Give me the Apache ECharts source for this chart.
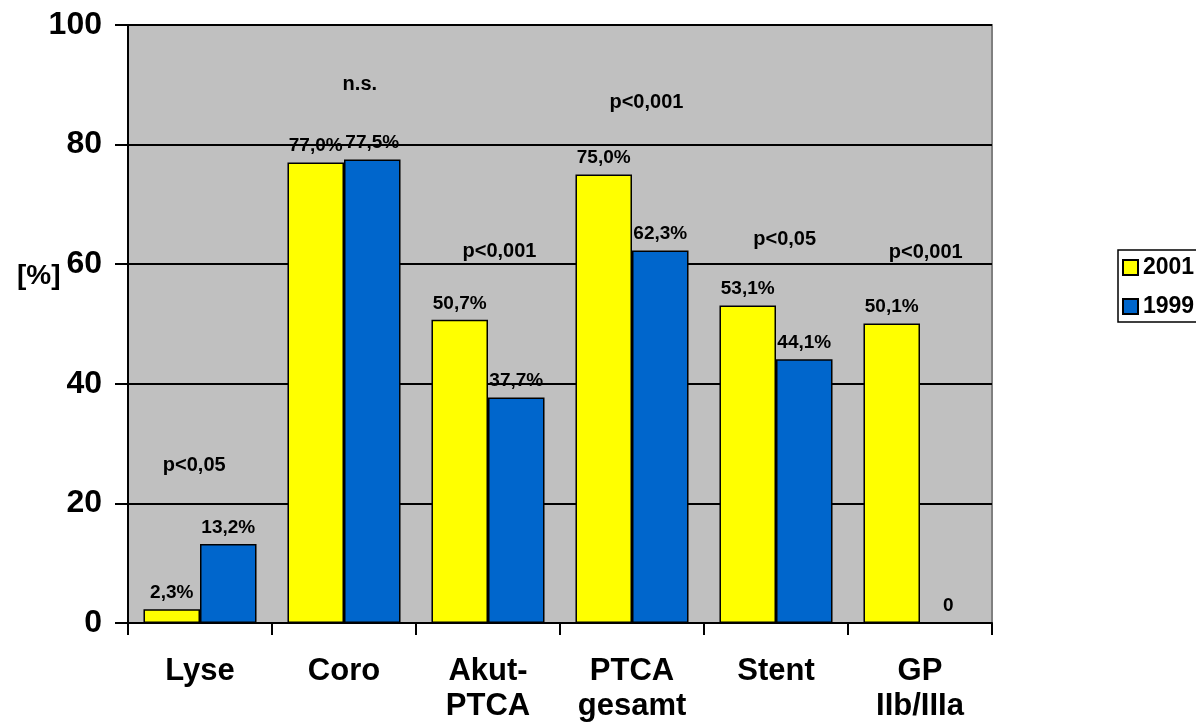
<!DOCTYPE html>
<html>
<head>
<meta charset="utf-8">
<title>Interventionen 2001 vs. 1999</title>
<script src="https://cdn.jsdelivr.net/npm/echarts@6/dist/echarts.min.js"></script>
<style>
  html, body { margin: 0; padding: 0; background: #ffffff; }
  #chart { width: 1196px; height: 724px; }
</style>
</head>
<body>
<div id="chart"></div>
<script>
// Categories and yearly shares in percent
const categories = ['Lyse', 'Coro', 'Akut-\nPTCA', 'PTCA\ngesamt', 'Stent', 'GP\nIIb/IIIa'];
const values2001 = [2.3, 77.0, 50.7, 75.0, 53.1, 50.1];
const values1999 = [13.2, 77.5, 37.7, 62.3, 44.1, 0];

// Significance notes above each group (x in category units, y in percent)
const pLabels = ['p<0,05', 'n.s.', 'p<0,001', 'p<0,001', 'p<0,05', 'p<0,001'];
const pLabelX = [0.46, 1.61, 2.58, 3.60, 4.56, 5.54];
const pLabelY = [26.3, 90.1, 62.2, 87.0, 64.2, 61.9];

const yTicks = { min: 0, max: 100, interval: 20 };

const FONT = '"Liberation Sans", Arial, sans-serif';

function pct(v) {
  return v === 0 ? '0' : v.toFixed(1).replace('.', ',') + '%';
}

const barLabel = {
  show: true,
  position: 'top',
  distance: 7,
  color: '#000',
  fontFamily: FONT,
  fontWeight: 'bold',
  fontSize: 19,
  formatter: p => pct(p.value)
};

const chart = echarts.init(document.getElementById('chart'), null, { renderer: 'canvas' });

chart.setOption({
  animation: false,
  backgroundColor: '#ffffff',
  grid: {
    left: 128, top: 25, right: 204, bottom: 101,
    show: true,
    backgroundColor: '#C0C0C0',
    borderColor: '#808080',
    borderWidth: 2
  },
  legend: {
    data: ['2001', '1999'],
    orient: 'vertical',
    left: 1118,
    top: 250,
    icon: 'rect',
    itemWidth: 15,
    itemHeight: 15,
    itemGap: 16,
    padding: [6, 20, 4, 4],
    backgroundColor: '#ffffff',
    borderColor: '#000',
    borderWidth: 1.5,
    borderRadius: 0,
    textStyle: { fontFamily: FONT, fontWeight: 'bold', fontSize: 23, color: '#000' }
  },
  graphic: [{
    type: 'text',
    left: 17,
    top: 262,
    style: { text: '[%]', fontFamily: FONT, fontWeight: 'bold', fontSize: 28, fill: '#000' }
  }],
  xAxis: [{
    type: 'category',
    data: categories,
    axisLine: { lineStyle: { color: '#000', width: 2 } },
    axisTick: { show: true, length: 12, lineStyle: { color: '#000', width: 2 } },
    axisLabel: {
      interval: 0,
      margin: 31,
      color: '#000',
      fontFamily: FONT,
      fontWeight: 'bold',
      fontSize: 31,
      lineHeight: 35
    },
    splitLine: { show: false }
  }, {
    type: 'value',
    min: 0,
    max: 6,
    show: false
  }],
  yAxis: {
    type: 'value',
    min: yTicks.min,
    max: yTicks.max,
    interval: yTicks.interval,
    axisLine: { show: true, lineStyle: { color: '#000', width: 2 } },
    axisTick: { show: true, length: 13, lineStyle: { color: '#000', width: 2 } },
    axisLabel: {
      margin: 26,
      color: '#000',
      fontFamily: FONT,
      fontWeight: 'bold',
      fontSize: 32
    },
    splitLine: { show: true, lineStyle: { color: '#000', width: 2 } }
  },
  series: [{
    name: '2001',
    type: 'bar',
    data: values2001,
    barGap: '0%',
    barCategoryGap: '21.5%',
    itemStyle: { color: '#FFFF00', borderColor: '#000', borderWidth: 1.5 },
    label: barLabel
  }, {
    name: '1999',
    type: 'bar',
    data: values1999,
    barGap: '0%',
    barCategoryGap: '21.5%',
    itemStyle: { color: '#0066CC', borderColor: '#000', borderWidth: 1.5 },
    label: barLabel
  }, {
    type: 'scatter',
    xAxisIndex: 1,
    silent: true,
    symbolSize: 0,
    itemStyle: { color: '#000', opacity: 1 },
    data: pLabels.map((t, i) => ({ value: [pLabelX[i], pLabelY[i]], name: t })),
    label: {
      show: true,
      position: 'inside',
      color: '#000',
      opacity: 1,
      fontFamily: FONT,
      fontWeight: 'bold',
      fontSize: 20,
      formatter: p => p.name
    }
  }]
});
</script>
</body>
</html>
